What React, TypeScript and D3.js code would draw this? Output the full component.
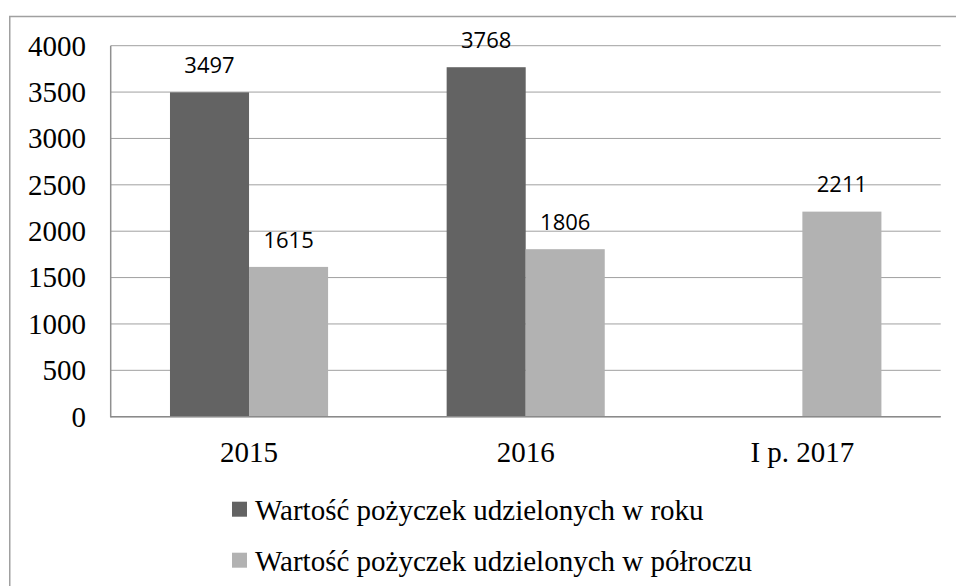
import React from "react";
import * as d3 from "d3";

const categories = ["2015", "2016", "I p. 2017"];
const seriesNames = [
  "Wartość pożyczek udzielonych w roku",
  "Wartość pożyczek udzielonych w półroczu",
];
const valuesYear: (number | null)[] = [3497, 3768, null];
const valuesHalf: (number | null)[] = [1615, 1806, 2211];
const yTicks = [0, 500, 1000, 1500, 2000, 2500, 3000, 3500, 4000];
const colors = ["#636363", "#b2b2b2"];

const W = 956;
const H = 586;
const plot = { left: 110.7, right: 940.7, top: 45.7, bottom: 416.7 };

export default function App() {
  const x0 = d3
    .scaleBand<string>()
    .domain(categories)
    .range([plot.left, plot.right])
    .paddingInner(0)
    .paddingOuter(0);
  const x1 = d3
    .scaleBand<string>()
    .domain(seriesNames)
    .range([0, x0.bandwidth()])
    .paddingInner(0)
    .paddingOuter(0.75);
  const y = d3.scaleLinear().domain([0, 4000]).range([plot.bottom, plot.top]);
  const series = [valuesYear, valuesHalf];

  const serif = "'Liberation Serif', 'Times New Roman', serif";
  const sans = "'Open Sans', 'Noto Sans', sans-serif";

  return (
    <svg
      width={W}
      height={H}
      style={{ position: "absolute", left: 0, top: 0, display: "block", background: "#fff" }}
    >
      <rect x={0} y={0} width={W} height={H} fill="#fff" />
      {/* outer border */}
      <rect x={9.75} y={16.5} width={W + 20} height={H + 20} fill="none" stroke="#a0a0a0" strokeWidth={1.5} />
      {/* gridlines */}
      {yTicks.map((t) => (
        <line
          key={t}
          x1={plot.left}
          x2={plot.right}
          y1={y(t)}
          y2={y(t)}
          stroke="#a0a0a0"
          strokeWidth={1}
        />
      ))}
      {/* bars */}
      {series.map((vals, si) =>
        vals.map((v, ci) =>
          v == null ? null : (
            <rect
              key={`${si}-${ci}`}
              x={(x0(categories[ci]) as number) + (x1(seriesNames[si]) as number)}
              y={y(v)}
              width={x1.bandwidth()}
              height={y(0) - y(v)}
              fill={colors[si]}
            />
          )
        )
      )}
      {/* axes lines */}
      <line x1={plot.left} x2={plot.left} y1={plot.top} y2={plot.bottom + 0.75} stroke="#909090" strokeWidth={1.5} />
      <line x1={plot.left} x2={plot.right} y1={plot.bottom} y2={plot.bottom} stroke="#8a8a8a" strokeWidth={1.5} />
      {/* data labels */}
      {series.map((vals, si) =>
        vals.map((v, ci) =>
          v == null ? null : (
            <text
              key={`l${si}-${ci}`}
              x={(x0(categories[ci]) as number) + (x1(seriesNames[si]) as number) + x1.bandwidth() / 2}
              y={y(v) - 19.4}
              textAnchor="middle"
              fontFamily={sans}
              fontSize={22}
              fill="#000"
            >
              {v}
            </text>
          )
        )
      )}
      {/* y tick labels */}
      {yTicks.map((t) => (
        <text
          key={`y${t}`}
          x={86}
          y={y(t)}
          dy="0.34em"
          textAnchor="end"
          fontFamily={serif}
          fontSize={29}
          fill="#000"
        >
          {t}
        </text>
      ))}
      {/* x labels */}
      {categories.map((c) => (
        <text
          key={c}
          x={(x0(c) as number) + x0.bandwidth() / 2}
          y={461.5}
          textAnchor="middle"
          fontFamily={serif}
          fontSize={29}
          fill="#000"
        >
          {c}
        </text>
      ))}
      {/* legend */}
      {seriesNames.map((s, i) => (
        <g key={s} transform={`translate(232, ${501.7 + i * 51})`}>
          <rect x={0} y={0} width={15} height={15} fill={colors[i]} />
          <text x={23} y={18.3} fontFamily={serif} fontSize={29} fill="#000">
            {s}
          </text>
        </g>
      ))}
    </svg>
  );
}
